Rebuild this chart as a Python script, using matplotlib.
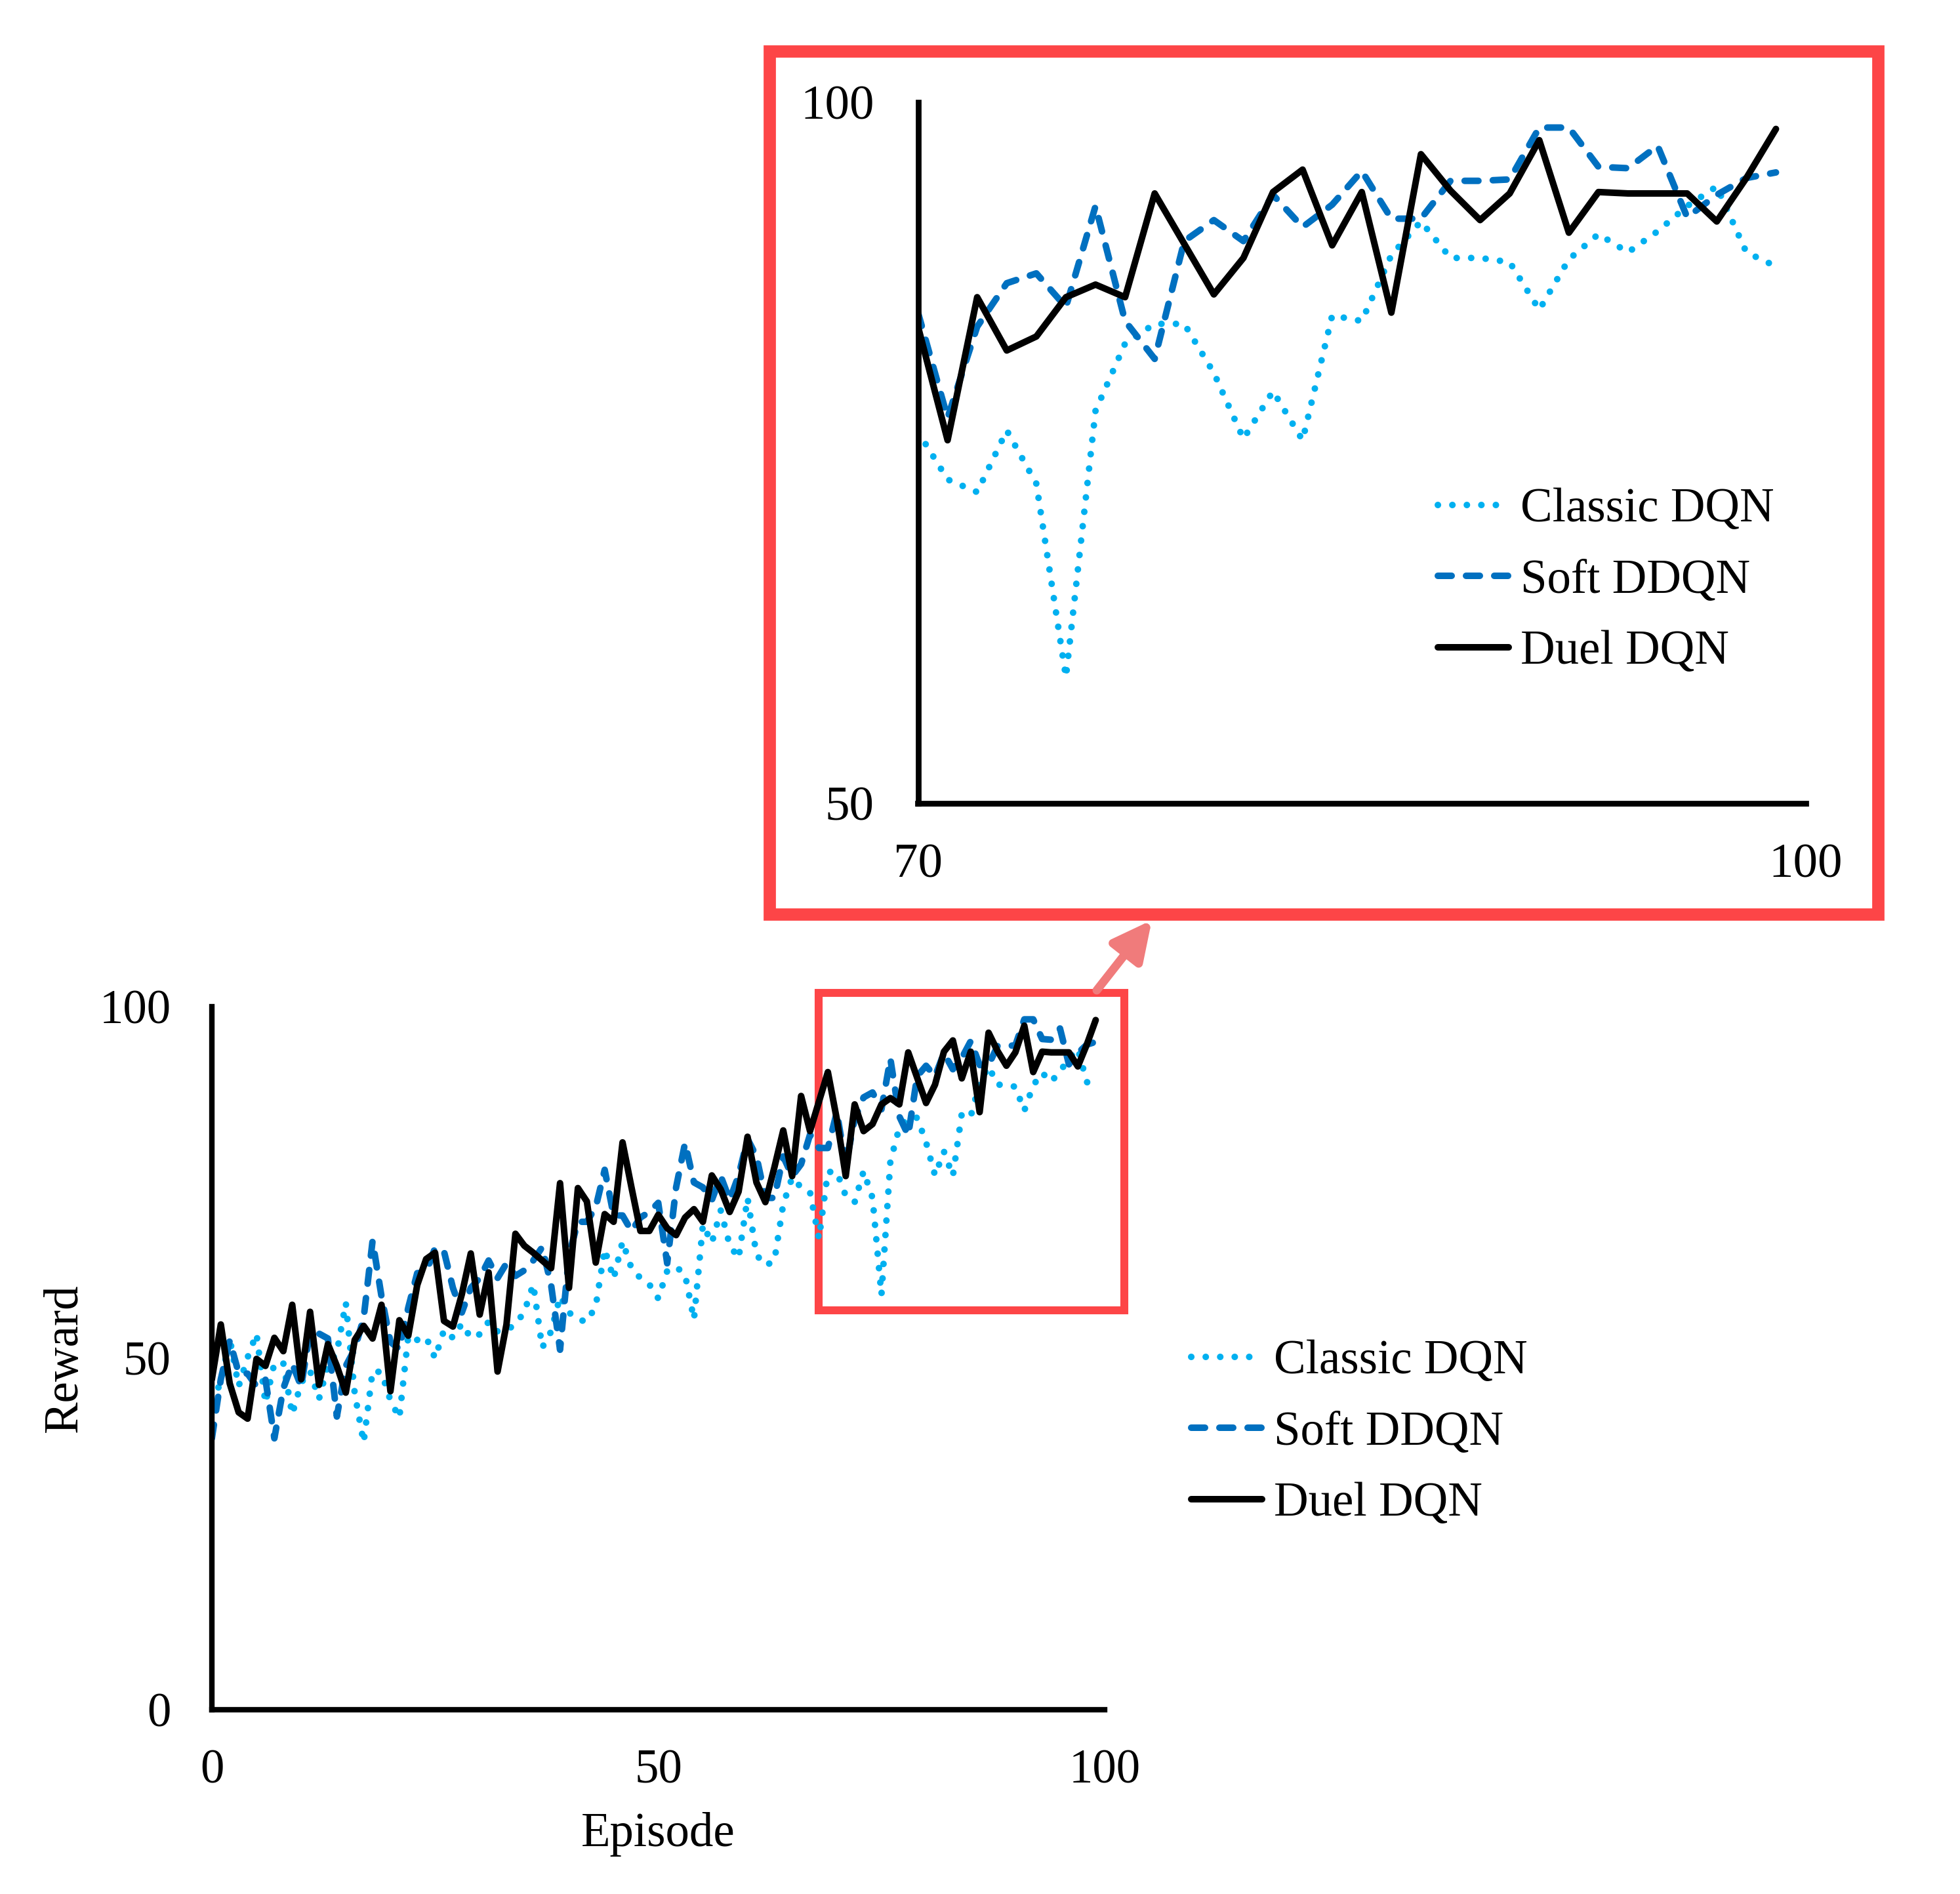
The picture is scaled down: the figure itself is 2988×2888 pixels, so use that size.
import numpy as np
import matplotlib
matplotlib.use('Agg')
import matplotlib.pyplot as plt
from matplotlib.patches import Rectangle, FancyArrowPatch

plt.rcParams['font.family'] = ['Liberation Serif', 'DejaVu Serif']
plt.rcParams['font.size'] = 17.5

episodes = np.arange(100)

classic_dqn = [44.0, 46.5, 52.8, 46.0, 50.1, 53.5, 43.6, 49.3, 49.3, 42.0,
               46.5, 48.2, 44.2, 49.0, 50.8, 57.9, 45.0, 38.0, 48.2, 48.0,
               44.0, 41.5, 53.2, 52.6, 53.0, 50.0, 54.0, 52.9, 54.9, 52.9,
               53.4, 55.2, 53.8, 54.0, 54.8, 56.6, 60.5, 51.5, 53.8, 58.8,
               56.5, 55.5, 55.2, 57.4, 65.5, 61.3, 66.6, 62.8, 61.4, 60.5,
               58.5, 62.4, 63.0, 61.9, 55.5, 69.0, 66.4, 71.0, 66.1, 64.2,
               72.8, 64.7, 63.2, 63.8, 71.9, 75.7, 74.3, 73.6, 67.0, 76.5,
               76.5, 73.1, 72.2, 76.6, 72.8, 59.0, 78.0, 82.8, 84.2, 84.2,
               80.7, 76.0, 79.4, 75.9, 84.8, 84.4, 89.1, 91.5, 88.9, 88.9,
               88.6, 85.2, 88.8, 90.6, 89.3, 90.8, 92.6, 94.0, 89.3, 88.3]

soft_ddqn = [38.6, 47.0, 52.5, 47.9, 47.8, 46.0, 47.0, 38.6, 45.7, 49.2,
             46.0, 53.8, 53.5, 52.8, 41.7, 48.9, 51.3, 55.7, 66.7, 58.8,
             52.3, 51.3, 57.2, 62.1, 62.2, 65.7, 65.2, 60.0, 56.5, 60.0,
             61.4, 63.9, 61.4, 63.5, 61.7, 62.5, 63.9, 65.8, 60.4, 51.2,
             64.7, 69.4, 69.4, 71.5, 76.8, 70.3, 70.3, 68.1, 70.0, 70.8,
             72.1, 63.5, 74.3, 80.6, 75.0, 74.3, 72.5, 75.9, 72.5, 76.0,
             81.2, 78.7, 72.8, 72.8, 78.7, 75.9, 77.6, 81.8, 79.9, 79.9,
             85.0, 77.5, 84.0, 87.1, 87.8, 85.4, 92.6, 84.4, 81.7, 90.1,
             91.6, 90.1, 93.4, 91.1, 92.7, 95.1, 91.7, 91.7, 94.4, 94.4,
             94.5, 98.2, 98.2, 95.4, 95.3, 96.9, 91.8, 93.4, 94.6, 95.0]

duel_dqn = [47.0, 54.8, 46.4, 42.3, 41.4, 49.9, 48.9, 52.9, 51.0, 57.6,
            47.0, 56.6, 46.2, 52.0, 48.9, 45.1, 52.6, 54.6, 52.8, 57.6,
            45.3, 55.4, 53.2, 60.4, 64.1, 65.0, 55.3, 54.5, 59.1, 64.9,
            56.2, 62.2, 48.1, 54.8, 67.7, 66.0, 65.0, 63.9, 62.8, 74.9,
            60.0, 74.2, 72.3, 63.6, 70.5, 69.4, 80.7, 74.3, 68.1, 68.1,
            70.4, 68.5, 67.5, 70.0, 71.2, 69.4, 76.0, 74.0, 70.8, 73.7,
            81.5, 75.0, 72.2, 77.1, 82.4, 75.9, 87.3, 82.3, 86.5, 90.7,
            84.0, 75.9, 86.1, 82.3, 83.3, 86.1, 87.0, 86.1, 93.5, 89.9,
            86.3, 88.9, 93.6, 95.2, 89.8, 93.6, 85.0, 96.3, 93.7, 91.6,
            93.5, 97.3, 90.7, 93.6, 93.5, 93.5, 93.5, 91.5, 94.6, 98.1]

labels = ['Classic DQN', 'Soft DDQN', 'Duel DQN']
series = [classic_dqn, soft_ddqn, duel_dqn]
styles = [dict(color='#00B0F0', ls=(0, (0.01, 2.2)), lw=2.4, dash_capstyle='round'),
          dict(color='#0070C0', ls=(0, (2.1, 2.2)), lw=2.4, dash_capstyle='round'),
          dict(color='black', ls='-', lw=2.4, solid_capstyle='round', solid_joinstyle='round')]

red = '#FD4547'
W, H = 2988, 2888

fig = plt.figure(figsize=(W / 300, H / 300), dpi=300)

# main chart
ax = fig.add_axes([323 / W, 1 - 2607 / H, 1361 / W, 1072 / H])
lines = []
for y, lab, st in zip(series, labels, styles):
    ln, = ax.plot(episodes, y, label=lab, **st)
    lines.append(ln)
ax.set_xlim(0, 100)
ax.set_ylim(0, 100)
ax.set_xticks([0, 50, 100])
ax.set_yticks([0, 50, 100])
for s in ['top', 'right']:
    ax.spines[s].set_visible(False)
for s in ['left', 'bottom']:
    ax.spines[s].set_linewidth(2.0)
ax.tick_params(axis='x', length=0, pad=14.5)
ax.tick_params(axis='y', length=0, pad=15)
ax.set_xlabel('Episode', va='center')
ax.xaxis.set_label_coords(0.5, -0.177)
ax.set_ylabel('Reward', va='center')
ax.yaxis.set_label_coords(-0.1646, 0.5)
ax.legend(lines, labels, loc='center left', bbox_to_anchor=(1816 / W, 1 - 2185 / H),
          bbox_transform=fig.transFigure, frameon=False, handlelength=1.48,
          handletextpad=0.25, labelspacing=0.56, borderpad=0, borderaxespad=0)

# zoom region marker
ax.add_patch(Rectangle((68, 56.8), 34.2, 45.2, fill=False, ec=red, lw=2.9,
                       clip_on=False, joinstyle='miter'))

# inset
axi = fig.add_axes([1399.5 / W, 1 - 1225 / H, 1353 / W, 1069 / H])
ins = episodes >= 70
ilines = []
for y, lab, st in zip(series, labels, styles):
    ln, = axi.plot(episodes[ins], np.array(y)[ins], label=lab, **st)
    ilines.append(ln)
axi.set_xlim(70, 100)
axi.set_ylim(50, 100)
axi.set_xticks([70, 100])
axi.set_yticks([50, 100])
for s in ['top', 'right']:
    axi.spines[s].set_visible(False)
for s in ['left', 'bottom']:
    axi.spines[s].set_linewidth(2.1)
axi.tick_params(axis='x', length=0, pad=14.7, labelsize=18)
axi.tick_params(axis='y', length=0, pad=16, labelsize=18)
axi.legend(ilines, labels, loc='center left', bbox_to_anchor=(2192 / W, 1 - 886 / H),
           bbox_transform=fig.transFigure, frameon=False, handlelength=1.48,
           handletextpad=0.25, labelspacing=0.56, borderpad=0, borderaxespad=0)

# red frame round the inset
fig.patches.append(Rectangle((1173 / W, 1 - 1394 / H), (2863 - 1173) / W, (1394 - 78) / H,
                             transform=fig.transFigure, fill=False, ec=red, lw=4.5,
                             joinstyle='miter'))

# arrow from zoom box to inset
fig.patches.append(FancyArrowPatch((1672 / W, 1 - 1510 / H), (1756 / W, 1 - 1403 / H),
                                   transform=fig.transFigure,
                                   arrowstyle='-|>,head_length=12,head_width=6',
                                   mutation_scale=1, lw=3.1, color='#F07B7B',
                                   capstyle='round', shrinkA=0, shrinkB=0))

fig.savefig('out.png', dpi=300)
